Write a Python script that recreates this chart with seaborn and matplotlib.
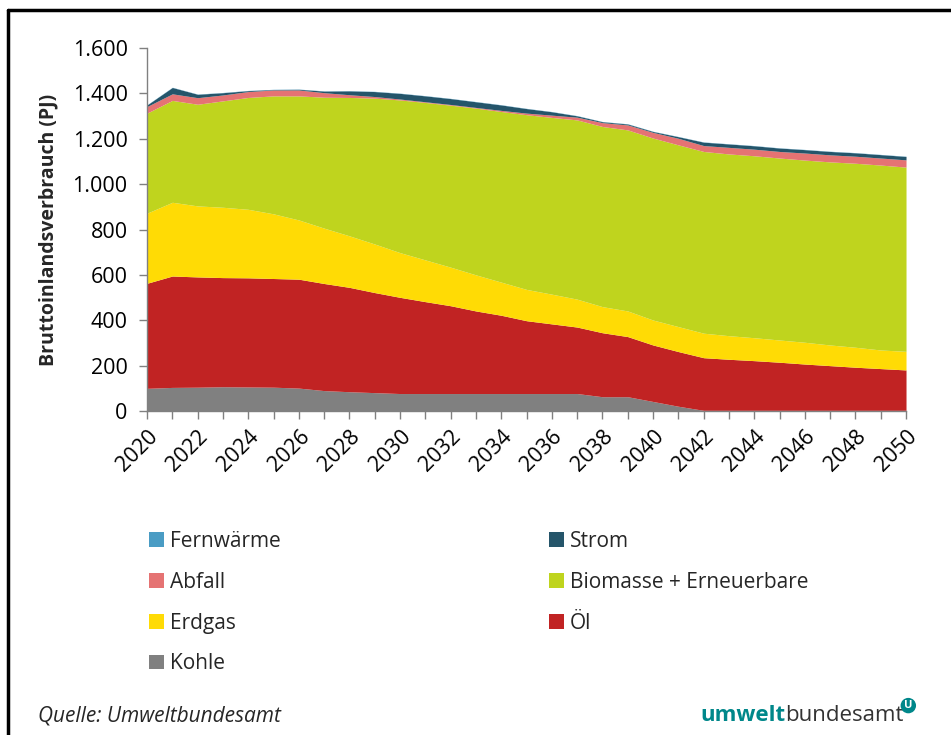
import matplotlib
matplotlib.use("Agg")
import matplotlib.pyplot as plt
import numpy as np
import seaborn as sns
from matplotlib.lines import Line2D
from matplotlib.patches import Patch

# --------------------------------------------------------------------------- #
# Data (PJ), 2020-2050
# --------------------------------------------------------------------------- #
years = list(range(2020, 2051))

kohle = [100, 104, 105, 107, 106, 105, 101, 90, 85, 81, 77, 77, 77, 77, 77, 77,
         77, 77, 63, 63, 42, 21, 3, 3, 3, 3, 3, 3, 3, 3, 3]
oel = [463, 491, 486, 481, 481, 479, 480, 472, 460, 441, 424, 405, 387, 364, 345,
       321, 307, 293, 282, 265, 249, 241, 232, 225, 219, 212, 204, 197, 190, 184, 178]
erdgas = [309, 325, 313, 310, 302, 285, 261, 244, 227, 214, 197, 184, 170, 159, 146,
          138, 131, 123, 115, 113, 110, 110, 108, 104, 101, 98, 96, 91, 88, 82, 82]
biomasse = [441, 449, 448, 469, 493, 520, 547, 577, 610, 643, 673, 694, 714, 735, 752,
            770, 779, 790, 794, 798, 802, 801, 801, 801, 802, 802, 803, 807, 811, 815, 812]
abfall = [29, 29, 29, 26, 26, 26, 26, 20, 12, 7, 4, 3, 3, 3, 5, 7, 10, 12, 17, 22,
          25, 29, 26, 29, 29, 29, 31, 31, 31, 31, 32]
strom = [7, 28, 15, 10, 4, 2, 3, 7, 17, 22, 25, 26, 26, 25, 24, 20, 15, 6, 4, 4, 4,
         7, 15, 15, 15, 15, 15, 15, 15, 15, 15]
fernwaerme = [1] * 31

labels = ["Kohle", "Öl", "Erdgas", "Biomasse + Erneuerbare", "Abfall", "Strom", "Fernwärme"]
colors = ["#808080", "#C12323", "#FFDB05", "#BFD41E", "#E57373", "#25556A", "#4A9CC4"]

y_ticks = [0, 200, 400, 600, 800, 1000, 1200, 1400, 1600]
y_ticklabels = ["0", "200", "400", "600", "800", "1.000", "1.200", "1.400", "1.600"]

# --------------------------------------------------------------------------- #
# Figure
# --------------------------------------------------------------------------- #
sns.set_theme(style="white")
plt.rcParams["font.family"] = ["Open Sans", "DejaVu Sans"]

fig = plt.figure(figsize=(9.51, 7.35), dpi=100)
ax = fig.add_axes([0.1546, 0.4408, 0.7981, 0.4939])

ax.stackplot(years, kohle, oel, erdgas, biomasse, abfall, strom, fernwaerme,
             colors=colors, labels=labels, linewidth=0)

ax.set_xlim(2020, 2050)
ax.set_ylim(0, 1600)
ax.set_yticks(y_ticks)
ax.set_yticklabels(y_ticklabels, fontsize=15.5)
ax.set_xticks(range(2020, 2051, 2))
ax.set_xticks(years, minor=True)
ax.set_xticklabels([str(y) for y in range(2020, 2051, 2)], fontsize=15.5,
                   rotation=45, ha="right", rotation_mode="anchor")
ax.tick_params(axis="both", which="both", direction="out", length=6, width=1,
               color="#808080", labelcolor="black")
ax.tick_params(axis="x", which="both", bottom=True, pad=5)
ax.tick_params(axis="y", left=True, pad=8)
ax.set_ylabel("Bruttoinlandsverbrauch (PJ)", fontsize=14, fontweight="bold", labelpad=10)

for side in ["top", "right"]:
    ax.spines[side].set_visible(False)
for side in ["left", "bottom"]:
    ax.spines[side].set_color("#808080")
    ax.spines[side].set_linewidth(1)

# legend laid out row-wise: reverse of stack order, two columns
handles = {lab: Patch(facecolor=c, edgecolor="none") for lab, c in zip(labels, colors)}
order = ["Fernwärme", "Abfall", "Erdgas", "Kohle", "Strom", "Biomasse + Erneuerbare", "Öl"]
fig.legend([handles[k] for k in order], order, loc="upper left",
           bbox_to_anchor=(0.148, 0.289), ncol=2, frameon=False, fontsize=15,
           handlelength=0.7, handleheight=0.7, handletextpad=0.3,
           labelspacing=0.95, columnspacing=12.9, borderaxespad=0)

# frame lines top and left
fig.add_artist(Line2D([0.008, 1.0], [0.987, 0.987], color="black", lw=2.5,
                      transform=fig.transFigure))
fig.add_artist(Line2D([0.008, 0.008], [0.0, 0.987], color="black", lw=2.5,
                      transform=fig.transFigure))

fig.text(0.040, 0.026, "Quelle: Umweltbundesamt", fontsize=15, style="italic",
         ha="left", va="center")

t1 = fig.text(0.736, 0.026, "umwelt", fontsize=16, fontweight="bold",
              color="#00878A", ha="left", va="center")
fig.canvas.draw()
bb = t1.get_window_extent()
x2 = bb.x1 / fig.bbox.width
t2 = fig.text(x2, 0.026, "bundesamt", fontsize=16, color="#333333",
              ha="left", va="center")
fig.canvas.draw()
bb2 = t2.get_window_extent()
x3 = bb2.x1 / fig.bbox.width + 0.005
fig.text(x3, 0.040, "U", fontsize=8, fontweight="bold", color="white",
         ha="center", va="center",
         bbox=dict(boxstyle="circle,pad=0.2", facecolor="#00878A", edgecolor="none"))

fig.savefig("out.png", dpi=100)
plt.close(fig)
